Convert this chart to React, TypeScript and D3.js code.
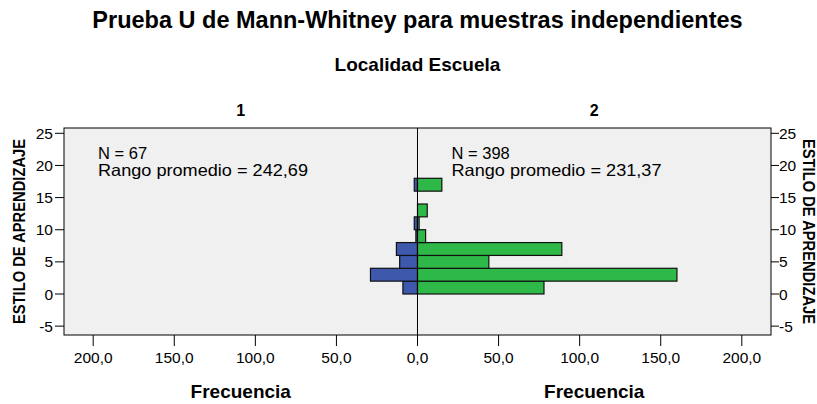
import React from "react";
import * as d3 from "d3";

const binStarts = [0, 2, 4, 6, 8, 10, 12, 14, 16];
const binWidth = 2;
const group1Counts = [9, 29, 11, 13, 1, 2, 0, 0, 2];
const group2Counts = [78, 160, 44, 89, 5, 1, 6, 0, 15];
const yTicks = [-5, 0, 5, 10, 15, 20, 25];
const xTicks = [0, 50, 100, 150, 200];
const panelLabels = ["1", "2"];
const annotations = [
  ["N = 67", "Rango promedio = 242,69"],
  ["N = 398", "Rango promedio = 231,37"],
];

const W = 817;
const H = 404;
const left = 64;
const right = 771;
const top = 128;
const bottom = 335;
const mid = 417.5;
const font = "'Liberation Sans', Arial, sans-serif";
const fmt = (v: number) => v.toFixed(1).replace(".", ",");

export default function App() {
  const y = d3.scaleLinear().domain([0, 25]).range([294, 133.3]);
  const xR = d3.scaleLinear().domain([0, 218]).range([mid, right]);
  const xL = d3.scaleLinear().domain([0, 218]).range([mid, left]);
  const fmtInt = (v: number) => String(v);

  return (
    <svg width={W} height={H} style={{ display: "block", position: "absolute", left: 0, top: 0 }} fontFamily={font}>
      <rect x={0} y={0} width={W} height={H} fill="#ffffff" />
      <text x={mid} y={28} textAnchor="middle" fontSize={23.5} fontWeight="bold" fill="#000">
        Prueba U de Mann-Whitney para muestras independientes
      </text>
      <text x={mid} y={71} textAnchor="middle" fontSize={19} fontWeight="bold" fill="#000">
        Localidad Escuela
      </text>
      {panelLabels.map((p, i) => (
        <text key={p} x={i === 0 ? (left + mid) / 2 : (mid + right) / 2} y={116} textAnchor="middle" fontSize={16} fontWeight="bold" fill="#000">
          {p}
        </text>
      ))}
      <rect x={left} y={top} width={right - left} height={bottom - top} fill="#f0f0f0" stroke="#000" strokeWidth={1} />

      {binStarts.map((b, i) => {
        const y0 = y(b);
        const y1 = y(b + binWidth);
        return (
          <g key={b}>
            {group1Counts[i] > 0 && (
              <rect x={xL(group1Counts[i])} y={y1} width={mid - xL(group1Counts[i])} height={y0 - y1} fill="#3e58ac" stroke="#111" strokeWidth={1.2} />
            )}
            {group2Counts[i] > 0 && (
              <rect x={mid} y={y1} width={xR(group2Counts[i]) - mid} height={y0 - y1} fill="#2eb848" stroke="#111" strokeWidth={1.2} />
            )}
          </g>
        );
      })}

      <line x1={mid} x2={mid} y1={top} y2={bottom + 11} stroke="#000" strokeWidth={1} />

      {annotations.map((a, i) => (
        <g key={i}>
          <text x={i === 0 ? 98 : 451.5} y={158.5} fontSize={16.5} fill="#000">{a[0]}</text>
          <text x={i === 0 ? 98 : 451.5} y={176} fontSize={16.5} fill="#000" textLength={210} lengthAdjust="spacingAndGlyphs">{a[1]}</text>
        </g>
      ))}

      {yTicks.map((t) => (
        <g key={t}>
          <line x1={left - 9} x2={left} y1={y(t)} y2={y(t)} stroke="#000" />
          <text x={left - 11} y={y(t) + 5.5} textAnchor="end" fontSize={15.5} fill="#000">{fmtInt(t)}</text>
          <line x1={right} x2={right + 8} y1={y(t)} y2={y(t)} stroke="#000" />
          <text x={right + 8} y={y(t) + 5.5} textAnchor="start" fontSize={15.5} fill="#000">{fmtInt(t)}</text>
        </g>
      ))}

      {xTicks.map((t) => (
        <g key={"x" + t}>
          {t !== 0 && <line x1={xL(t)} x2={xL(t)} y1={bottom} y2={bottom + 11} stroke="#000" />}
          {t !== 0 && <line x1={xR(t)} x2={xR(t)} y1={bottom} y2={bottom + 11} stroke="#000" />}
          <text x={xL(t)} y={363} textAnchor="middle" fontSize={15.5} fill="#000">{fmt(t)}</text>
          {t !== 0 && <text x={xR(t)} y={363} textAnchor="middle" fontSize={15.5} fill="#000">{fmt(t)}</text>}
        </g>
      ))}

      <text x={(left + mid) / 2} y={398} textAnchor="middle" fontSize={19} fontWeight="bold" fill="#000">Frecuencia</text>
      <text x={(mid + right) / 2} y={398} textAnchor="middle" fontSize={19} fontWeight="bold" fill="#000">Frecuencia</text>

      <text transform={`translate(25, ${(top + bottom) / 2}) rotate(-90)`} textAnchor="middle" fontSize={16} fontWeight="bold" fill="#000" textLength={185} lengthAdjust="spacingAndGlyphs">
        ESTILO DE APRENDIZAJE
      </text>
      <text transform={`translate(803, ${(top + bottom) / 2}) rotate(90)`} textAnchor="middle" fontSize={16} fontWeight="bold" fill="#000" textLength={185} lengthAdjust="spacingAndGlyphs">
        ESTILO DE APRENDIZAJE
      </text>
    </svg>
  );
}
